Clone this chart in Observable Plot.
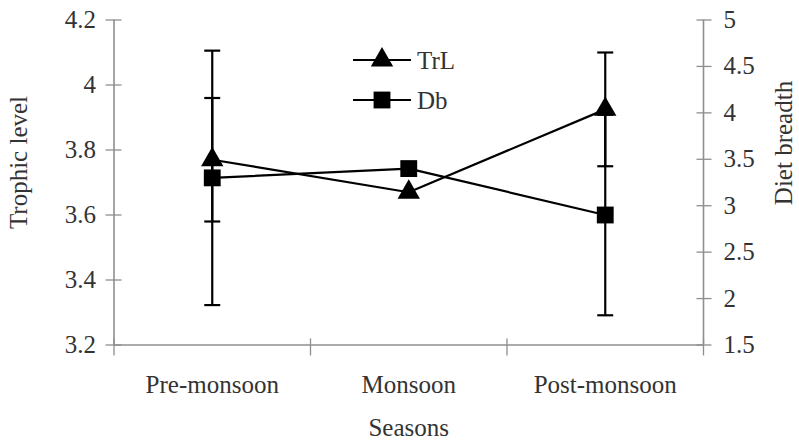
<!DOCTYPE html>
<html>
<head>
<meta charset="utf-8">
<script src="https://cdn.jsdelivr.net/npm/d3@7"></script>
<script src="https://cdn.jsdelivr.net/npm/@observablehq/plot@0.6"></script>
<style>
  html, body { margin: 0; padding: 0; background: #fff; }
  #chart { width: 799px; height: 446px; }
  #chart svg text {
    font-family: "Liberation Serif", "Times New Roman", serif !important;
    font-size: 25px !important;
    font-variant: normal !important;
  }
</style>
</head>
<body>
<div id="chart"></div>
<script>
// ---- data ----
const seasons = ["Pre-monsoon", "Monsoon", "Post-monsoon"];
const trophicLevel = [3.77, 3.67, 3.925];      // TrL, left axis
const trophicErr   = [0.19, null, 0.175];
const dietBreadth  = [3.30, 3.40, 2.90];       // Db, right axis
const dietErr      = [1.37, null, 1.08];
const leftTicks  = [3.2, 3.4, 3.6, 3.8, 4.0, 4.2];
const rightTicks = [1.5, 2, 2.5, 3, 3.5, 4, 4.5, 5];
const leftDomain  = [3.2, 4.2];
const rightDomain = [1.5, 5];
const seriesNames = ["TrL", "Db"];
const yLabelLeft = "Trophic level";
const yLabelRight = "Diet breadth";
const xLabel = "Seasons";

// ---- helpers ----
const k = (leftDomain[1] - leftDomain[0]) / (rightDomain[1] - rightDomain[0]);
const toLeft = v => leftDomain[0] + (v - rightDomain[0]) * k;
const fromLeft = v => rightDomain[0] + (v - leftDomain[0]) / k;

const rows = [];
seasons.forEach((s, i) => {
  rows.push({season: s, pos: i + 0.5, series: seriesNames[0],
    y: trophicLevel[i],
    lo: trophicErr[i] == null ? null : trophicLevel[i] - trophicErr[i],
    hi: trophicErr[i] == null ? null : trophicLevel[i] + trophicErr[i]});
  rows.push({season: s, pos: i + 0.5, series: seriesNames[1],
    y: toLeft(dietBreadth[i]),
    lo: dietErr[i] == null ? null : toLeft(dietBreadth[i] - dietErr[i]),
    hi: dietErr[i] == null ? null : toLeft(dietBreadth[i] + dietErr[i])});
});
const errRows = rows.filter(d => d.lo != null);
const caps = errRows.flatMap(d => [{pos: d.pos, y: d.lo}, {pos: d.pos, y: d.hi}]);

const capSymbol = {
  draw(ctx, size) {
    const w = Math.sqrt(size) / 2;
    ctx.moveTo(-w, 0);
    ctx.lineTo(w, 0);
  }
};

const gray = "#8f8f8f";
const ink = "#333";
const font = "Liberation Serif";
const txt = {fontFamily: font, fontSize: 25, fill: ink};

const plot = Plot.plot({
  width: 799,
  height: 446,
  marginLeft: 113.5,
  marginRight: 96,
  marginTop: 19.5,
  marginBottom: 101.5,
  style: {fontFamily: font, fontSize: "25px", background: "#fff", color: ink},
  x: {type: "linear", domain: [0, seasons.length]},
  y: {type: "linear", domain: leftDomain},
  marks: [
    // axis lines
    Plot.ruleX([0, seasons.length], {stroke: gray, strokeWidth: 1.6}),
    Plot.ruleY([leftDomain[0]], {stroke: gray, strokeWidth: 1.6}),
    // crossing tick marks
    Plot.axisX({ticks: d3.range(seasons.length + 1), tickSize: 17, dy: -6, fill: "none", stroke: gray, strokeWidth: 1.3, label: null}),
    Plot.axisY({anchor: "left", ticks: leftTicks, tickSize: 16, dx: 8, fill: "none", stroke: gray, strokeWidth: 1.3, label: null}),
    Plot.axisY({anchor: "right", ticks: rightTicks.map(toLeft), tickSize: 15, dx: -7.5, fill: "none", stroke: gray, strokeWidth: 1.3, label: null}),
    // tick labels
    Plot.axisX({ticks: seasons.map((s, i) => i + 0.5), tickSize: 0, tickPadding: 30,
      tickFormat: d => seasons[Math.floor(d)], label: null, ...txt}),
    Plot.axisY({anchor: "left", ticks: leftTicks, tickSize: 0, tickPadding: 18,
      tickFormat: d => String(+d.toFixed(2)), label: null, ...txt}),
    Plot.axisY({anchor: "right", ticks: rightTicks.map(toLeft), tickSize: 0, tickPadding: 20,
      tickFormat: d => String(+fromLeft(d).toFixed(2)), label: null, ...txt}),
    // axis titles
    Plot.text([yLabelLeft], {text: d => d, frameAnchor: "left", textAnchor: "middle", dx: -95, dy: -20, rotate: -90, ...txt}),
    Plot.text([yLabelRight], {text: d => d, frameAnchor: "right", textAnchor: "middle", dx: 80, dy: -39.5, rotate: -90, ...txt}),
    Plot.text([xLabel], {text: d => d, frameAnchor: "bottom", dy: 73, lineAnchor: "top", ...txt}),
    // error bars
    Plot.ruleX(errRows, {x: "pos", y1: "lo", y2: "hi", stroke: "black", strokeWidth: 2.2}),
    Plot.dot(caps, {x: "pos", y: "y", symbol: capSymbol, r: 9, stroke: "black", strokeWidth: 2.2, fill: "none"}),
    // lines
    Plot.line(rows, {x: "pos", y: "y", z: "series", stroke: "black", strokeWidth: 2.2}),
    // markers
    Plot.dot(rows.filter(d => d.series === seriesNames[0]), {x: "pos", y: "y", symbol: "triangle", r: 8.3, fill: "black", stroke: "none"}),
    Plot.dot(rows.filter(d => d.series === seriesNames[1]), {x: "pos", y: "y", symbol: "square", r: 9.5, fill: "black", stroke: "none"})
  ]
});

document.getElementById("chart").appendChild(plot);

// legend (inside plot area)
const svg = d3.select(plot);
const leg = svg.append("g")
  .attr("font-family", font).attr("font-size", 25).attr("fill", ink)
  .attr("text-anchor", "start");
const legendSymbols = [d3.symbolTriangle, d3.symbolSquare];
const legendSizes = [Math.PI * 8.3 * 8.3, Math.PI * 9.5 * 9.5];
seriesNames.forEach((name, i) => {
  const cy = 60 + i * 40;
  const g = leg.append("g").attr("transform", `translate(0,${cy})`);
  g.append("line").attr("x1", 353).attr("x2", 411).attr("y1", 0).attr("y2", 0)
    .attr("stroke", "black").attr("stroke-width", 2.2);
  g.append("path").attr("d", d3.symbol(legendSymbols[i], legendSizes[i])())
    .attr("transform", "translate(382,0)").attr("fill", "black");
  g.append("text").attr("x", 417).attr("y", 0).attr("dy", "0.35em")
    .attr("text-anchor", "start").text(name);
});
</script>
</body>
</html>
